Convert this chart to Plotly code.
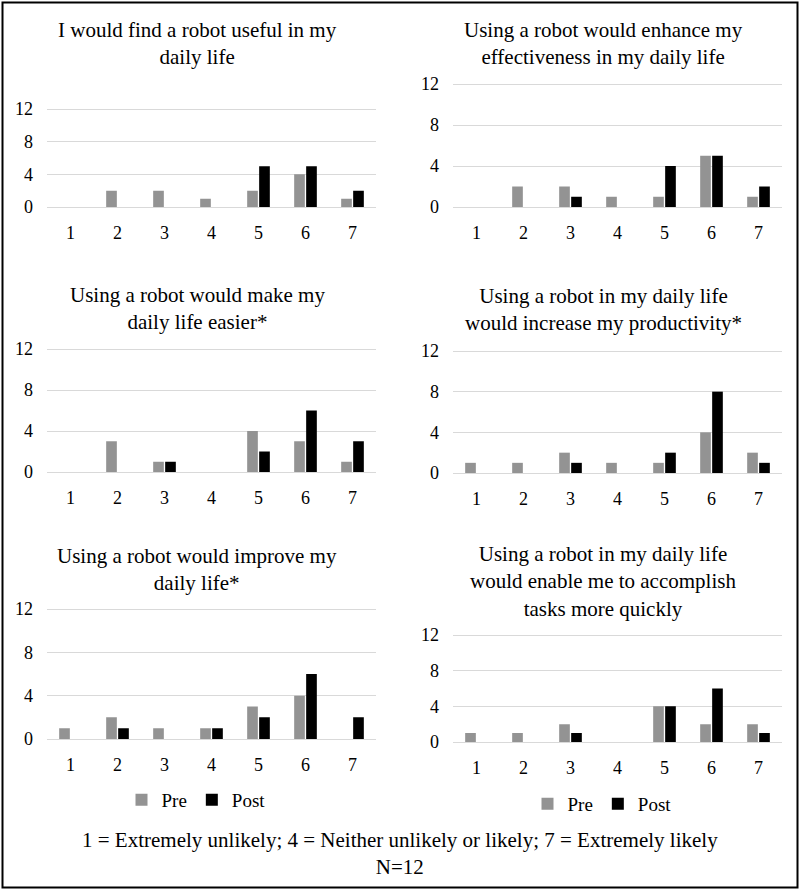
import plotly.graph_objects as go

# ---------------- data ----------------
categories = ["1", "2", "3", "4", "5", "6", "7"]

titles = [
    "I would find a robot useful in my<br>daily life",
    "Using a robot would enhance my<br>effectiveness in my daily life",
    "Using a robot would make my<br>daily life easier*",
    "Using a robot in my daily life<br>would increase my productivity*",
    "Using a robot would improve my<br>daily life*",
    "Using a robot in my daily life<br>would enable me to accomplish<br>tasks more quickly",
]

pre_useful = [0, 2, 2, 1, 2, 4, 1]
post_useful = [0, 0, 0, 0, 5, 5, 2]
pre_effective = [0, 2, 2, 1, 1, 5, 1]
post_effective = [0, 0, 1, 0, 4, 5, 2]
pre_easier = [0, 3, 1, 0, 4, 3, 1]
post_easier = [0, 0, 1, 0, 2, 6, 3]
pre_productive = [1, 1, 2, 1, 1, 4, 2]
post_productive = [0, 0, 1, 0, 2, 8, 1]
pre_improve = [1, 2, 1, 1, 3, 4, 0]
post_improve = [0, 1, 0, 1, 2, 6, 2]
pre_quick = [1, 1, 2, 0, 4, 2, 2]
post_quick = [0, 0, 1, 0, 4, 6, 1]

y_ticks = [0, 4, 8, 12]
series_names = ["Pre", "Post"]
footnote = "1 = Extremely unlikely; 4 = Neither unlikely or likely; 7 = Extremely likely<br>N=12"

pre_series = [pre_useful, pre_effective, pre_easier, pre_productive, pre_improve, pre_quick]
post_series = [post_useful, post_effective, post_easier, post_productive, post_improve, post_quick]

# ---------------- layout geometry (pixels) ----------------
W, H = 800, 890
FONT = "Liberation Serif"
PRE_COLOR = "#939393"
POST_COLOR = "#000000"
GRID = "#d9d9d9"
YMAX = 12.3

# (x_left, x_right, y_pixel_of_0, y_pixel_of_12, title_cx, title_cy)
panels = [
    (47, 376, 207, 109, 197, 43),
    (453, 782, 207, 84, 603, 43),
    (47, 376, 472, 349, 197, 308),
    (453, 782, 473, 351, 603, 310),
    (47, 376, 739, 609, 197, 569),
    (453, 782, 742, 635, 603, 581),
]

fig = go.Figure()
layout = dict(
    width=W, height=H,
    margin=dict(l=0, r=0, t=0, b=0, pad=0, autoexpand=False),
    paper_bgcolor="white", plot_bgcolor="white",
    barmode="group", bargap=0.49, bargroupgap=0.11,
    font=dict(family=FONT, color="black"),
    annotations=[], shapes=[],
)

for i, (xl, xr, y0, y12, tcx, tcy) in enumerate(panels):
    n = i + 1
    xa = "x" if n == 1 else f"x{n}"
    ya = "y" if n == 1 else f"y{n}"
    top_px = y0 - (y0 - y12) * YMAX / 12.0
    legend_name = None
    show = False
    if n == 5:
        legend_name, show = "legend", True
    elif n == 6:
        legend_name, show = "legend2", True
    for name, vals, col in [
        (series_names[0], pre_series[i], PRE_COLOR),
        (series_names[1], post_series[i], POST_COLOR),
    ]:
        kw = dict(x=categories, y=vals, name=name, marker=dict(color=col, line=dict(width=0)),
                  xaxis=xa, yaxis=ya, showlegend=show, hoverinfo="x+y+name")
        if legend_name:
            kw["legend"] = legend_name
        fig.add_trace(go.Bar(**kw))

    xkey = "xaxis" if n == 1 else f"xaxis{n}"
    ykey = "yaxis" if n == 1 else f"yaxis{n}"
    layout[xkey] = dict(
        domain=[xl / W, xr / W], anchor=ya, type="category", automargin=False,
        range=[-0.5, 6.5], showgrid=False, showline=True, linecolor=GRID, linewidth=1,
        ticks="", tickfont=dict(size=18, family=FONT, color="black"),
        ticklabelstandoff=9, zeroline=False, fixedrange=True,
    )
    layout[ykey] = dict(
        domain=[1 - y0 / H, 1 - top_px / H], anchor=xa, automargin=False,
        range=[0, YMAX], tickvals=y_ticks, showgrid=True, gridcolor=GRID, gridwidth=1,
        zeroline=False, showline=False, ticks="",
        tickfont=dict(size=18, family=FONT, color="black"),
        ticklabelstandoff=13, fixedrange=True,
    )
    layout["annotations"].append(dict(
        text=titles[i], x=tcx / W, y=1 - tcy / H, xref="paper", yref="paper",
        xanchor="center", yanchor="middle", showarrow=False, align="center",
        font=dict(size=21, family=FONT, color="black"),
    ))

layout["annotations"].append(dict(
    text=footnote, x=0.5, y=1 - 853 / H, xref="paper", yref="paper",
    xanchor="center", yanchor="middle", showarrow=False, align="center",
    font=dict(size=21, family=FONT, color="black"),
))

legend_common = dict(
    orientation="h", xanchor="center", yanchor="middle",
    font=dict(size=19, family=FONT, color="black"), bgcolor="rgba(0,0,0,0)",
    traceorder="normal", itemwidth=30,
)
layout["legend"] = dict(x=196 / W, y=1 - 800 / H, **legend_common)
layout["legend2"] = dict(x=602 / W, y=1 - 804 / H, **legend_common)

layout["shapes"].append(dict(
    type="rect", xref="paper", yref="paper",
    x0=2.5 / W, x1=797.5 / W, y0=1 - 887.5 / H, y1=1 - 2.5 / H,
    line=dict(color="black", width=2), fillcolor="rgba(0,0,0,0)", layer="above",
))

fig.update_layout(**layout)
fig.write_html(
    "out.html",
    config={"displayModeBar": False},
    post_script="document.body.style.margin='0';document.body.style.overflow='hidden';",
)
